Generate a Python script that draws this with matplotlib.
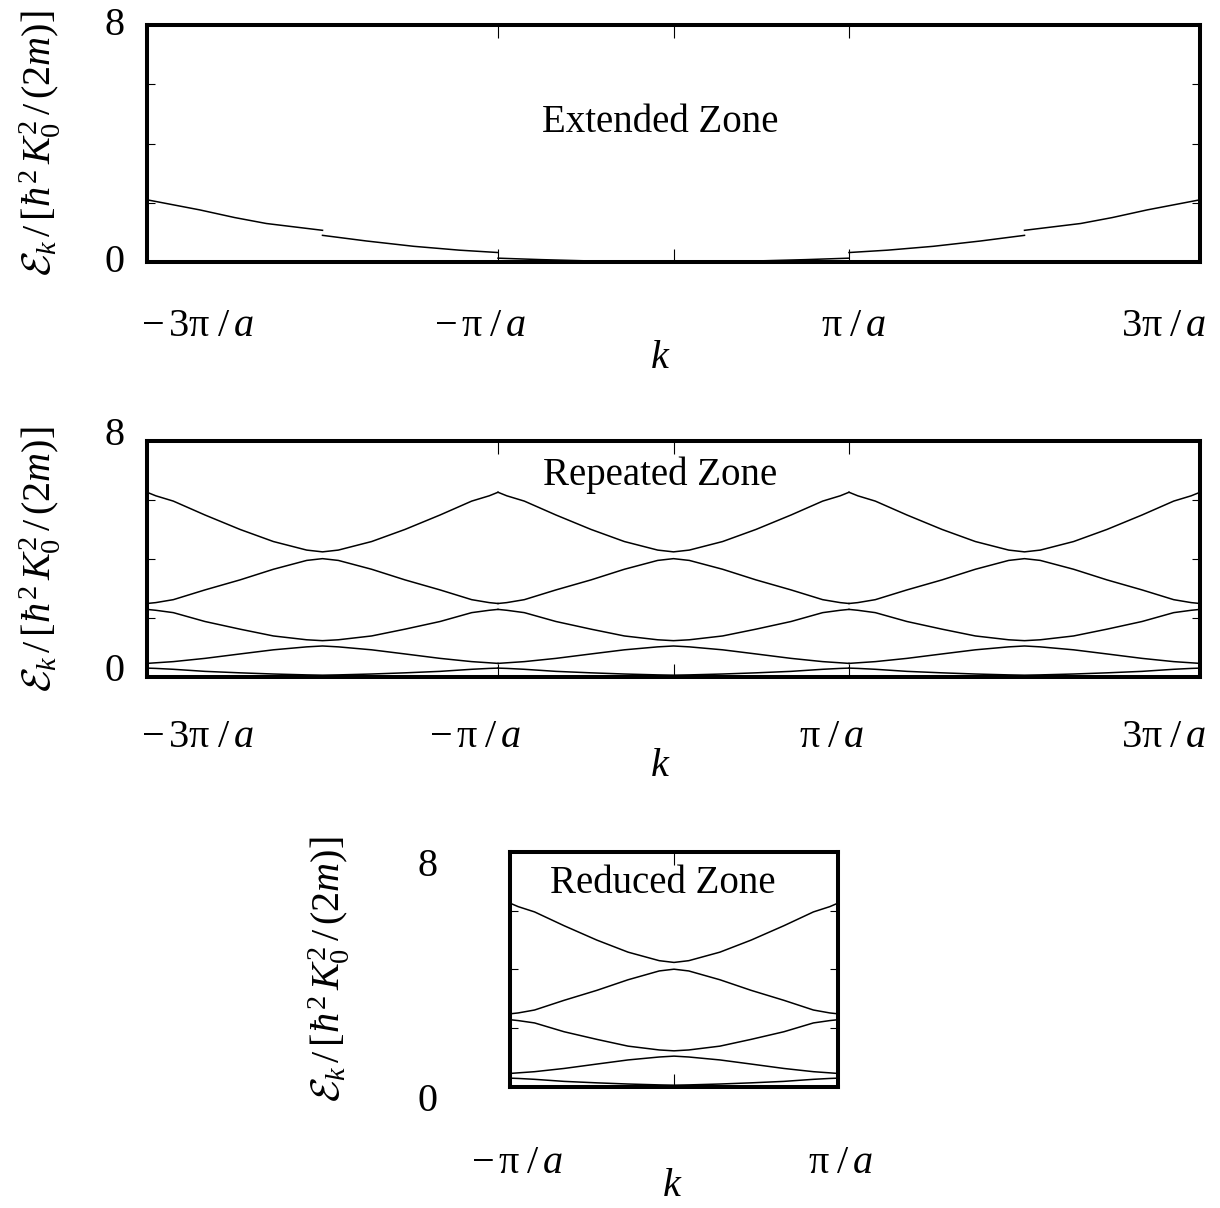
import matplotlib
matplotlib.use("Agg")
import matplotlib.pyplot as plt
from matplotlib.transforms import ScaledTranslation

plt.rcParams['font.family'] = ['Liberation Serif', 'DejaVu Serif']
plt.rcParams['mathtext.fontset'] = 'custom'
plt.rcParams['mathtext.rm'] = 'Liberation Serif'
plt.rcParams['mathtext.it'] = 'Liberation Serif:italic'
plt.rcParams['mathtext.bf'] = 'Liberation Serif:bold'
plt.rcParams['mathtext.cal'] = 'cmsy10'

# k in units of pi/a, energy in units of hbar^2 K0^2 / (2m)

# extended zone: left half of the free-electron-like curve, one piece per zone
ext_k_a = [-3.0, -2.70, -2.50, -2.32, -2.0]
ext_e_a = [2.10, 1.76, 1.50, 1.30, 1.07]
ext_k_b = [-2.0, -1.75, -1.48, -1.22, -1.0]
ext_e_b = [0.90, 0.71, 0.53, 0.40, 0.32]
ext_k_c = [-1.0, -0.75, -0.50, -0.25, 0.0]
ext_e_c = [0.13, 0.08, 0.04, 0.01, 0.0]

# lowest five bands over the first Brillouin zone
red_k = [-1.0, -0.95, -0.85, -0.67, -0.47, -0.28, -0.09, 0.0,
         0.09, 0.28, 0.47, 0.67, 0.85, 0.95, 1.0]
band1 = [0.30, 0.29, 0.26, 0.19, 0.14, 0.10, 0.07, 0.06,
         0.07, 0.10, 0.14, 0.19, 0.26, 0.29, 0.30]
band2 = [0.46, 0.48, 0.52, 0.63, 0.78, 0.92, 1.02, 1.05,
         1.02, 0.92, 0.78, 0.63, 0.52, 0.48, 0.46]
band3 = [2.29, 2.26, 2.18, 1.88, 1.62, 1.39, 1.26, 1.23,
         1.26, 1.39, 1.62, 1.88, 2.18, 2.26, 2.29]
band4 = [2.49, 2.52, 2.62, 2.95, 3.29, 3.65, 3.95, 4.01,
         3.95, 3.65, 3.29, 2.95, 2.62, 2.52, 2.49]
band5 = [6.26, 6.14, 5.96, 5.49, 5.00, 4.59, 4.30, 4.24,
         4.30, 4.59, 5.00, 5.49, 5.96, 6.14, 6.26]
bands = [band1, band2, band3, band4, band5]

wide_ticks = [-3, -1, 0, 1, 3]
wide_labels = [r'$-\,3\mathrm{\pi}\;/\,a$', r'$-\,\mathrm{\pi}\;/\,a$', '',
               r'$\mathrm{\pi}\;/\,a$', r'$3\mathrm{\pi}\;/\,a$']
narrow_ticks = [-1, 0, 1]
narrow_labels = [r'$-\,\mathrm{\pi}\;/\,a$', '', r'$\mathrm{\pi}\;/\,a$']
e_ticks = [0, 2, 4, 6, 8]
e_labels = ['0', '', '', '', '8']

ylab = r'$\mathcal{E}_k\,/\,[\hbar^2\, K_0^2\,/\,(2m)]$'
FS = 29

fig = plt.figure(figsize=(12.2, 12.08), dpi=100)
ax1 = fig.add_axes([0.1205, 0.7831, 0.8631, 0.1962])
ax2 = fig.add_axes([0.1205, 0.4396, 0.8631, 0.1954])
ax3 = fig.add_axes([0.4180, 0.1002, 0.2689, 0.1945])


def style(ax, xticks, xlabels, xlim, xpad, ypad, ylab_x, klab_xy):
    ax.set_xlim(*xlim)
    ax.set_ylim(0, 8)
    ax.set_xticks(xticks)
    ax.set_xticklabels(xlabels, fontsize=FS)
    ax.set_yticks(e_ticks)
    ax.set_yticklabels(e_labels, fontsize=FS)
    ax.tick_params(axis='x', direction='in', top=True, length=9.5, width=0.8, pad=xpad)
    ax.tick_params(axis='y', direction='in', right=True, length=6, width=0.8, pad=ypad)
    for s in ax.spines.values():
        s.set_linewidth(2.9)
    ax.set_ylabel(ylab, fontsize=FS)
    ax.yaxis.set_label_coords(ylab_x, 0.5)
    ax.set_xlabel(r'$k$', fontsize=FS)
    ax.xaxis.set_label_coords(*klab_xy)


def shift(labels, offsets):
    for lab, (dx, dy) in zip(labels, offsets):
        lab.set_transform(lab.get_transform() +
                          ScaledTranslation(dx / 100, dy / 100, fig.dpi_scale_trans))


# extended zone
for kk, ee in [(ext_k_a, ext_e_a), (ext_k_b, ext_e_b), (ext_k_c, ext_e_c)]:
    ax1.plot(kk, ee, color='black', lw=1.1)
    ax1.plot([-v for v in kk], ee, color='black', lw=1.1)
style(ax1, wide_ticks, wide_labels, (-3, 3), 33, 16, -0.080, (0.487, -0.33))
ax1.text(0.487, 0.59, 'Extended Zone', transform=ax1.transAxes,
         fontsize=28, ha='center', va='center')

# repeated zone: the same bands in each zone
for b in bands:
    for g in (-2, 0, 2):
        ax2.plot([v + g for v in red_k], b, color='black', lw=1.1)
style(ax2, wide_ticks, wide_labels, (-3, 3), 30, 16, -0.080, (0.487, -0.30))
ax2.text(0.487, 0.856, 'Repeated Zone', transform=ax2.transAxes,
         fontsize=28, ha='center', va='center')

# reduced zone
for b in bands:
    ax3.plot(red_k, b, color='black', lw=1.1)
style(ax3, narrow_ticks, narrow_labels, (-1, 1), 42, 52, -0.482, (0.494, -0.345))
ax3.text(0.466, 0.864, 'Reduced Zone', transform=ax3.transAxes,
         fontsize=28, ha='center', va='center')

# label nudges (pixels)
shift(ax1.get_xticklabels(), [(50, 0), (-18, 0), (0, 0), (5, 0), (-36, 0)])
shift(ax2.get_xticklabels(), [(50, 0), (-23, 0), (0, 0), (-17, 0), (-36, 0)])
shift(ax3.get_xticklabels(), [(7, 0), (0, 0), (2, 0)])
shift(ax1.get_yticklabels(), [(0, 4)] * 5)
shift(ax2.get_yticklabels(), [(0, 10)] * 5)
shift(ax3.get_yticklabels(), [(0, -10)] * 5)

fig.savefig('out.png', dpi=100)
